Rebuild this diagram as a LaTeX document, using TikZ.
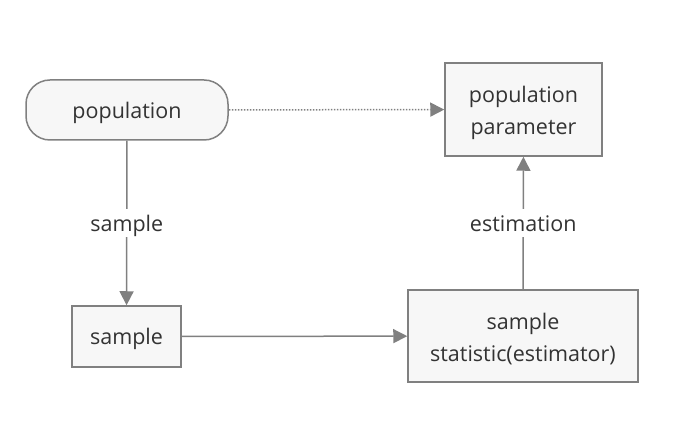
\documentclass[tikz,border=0pt]{standalone}
\usepackage{fontspec}
\setmainfont{Open Sans}
\usetikzlibrary{arrows.meta}
\definecolor{edgegray}{HTML}{808080}
\definecolor{boxfill}{HTML}{F7F7F7}
\definecolor{txt}{HTML}{333333}
\begin{document}
\begin{tikzpicture}[x=1pt,y=-1pt,
  box/.style={draw=edgegray,fill=boxfill,line width=1.5pt,text=txt,inner sep=0pt,align=center,font=\fontsize{21.5}{32}\selectfont},
  oneline/.style={text height=19pt,text depth=2.5pt},
  twoline/.style={text height=53pt,text depth=2.5pt},
  conn/.style={draw=edgegray,line width=1.5pt,-{Triangle[length=14pt,width=14pt]}},
  dotline/.style={line width=1.5pt,dash pattern=on 1.5pt off 1.5pt},
  lbl/.style={text=txt,font=\fontsize{21.5}{32}\selectfont,fill=white,inner sep=3pt,text height=20pt,text depth=2pt}]
\useasboundingbox (0,0) rectangle (696,443);
\node[box,oneline,rounded corners=24pt,minimum width=202pt,minimum height=60pt] (pop) at (127,110) {population};
\node[box,twoline,minimum width=157pt,minimum height=93pt] (par) at (523.5,109.5) {population\\parameter};
\node[box,oneline,minimum width=109pt,minimum height=61pt] (smp) at (126.5,336.5) {sample};
\node[box,twoline,minimum width=230pt,minimum height=92pt] (stat) at (523,336) {sample\\statistic(estimator)};
\draw[conn,dotline] (pop) -- (par);
\draw[conn] (pop) -- node[lbl] {sample} (smp);
\draw[conn] (smp) -- (stat);
\draw[conn] (stat) -- node[lbl] {estimation} (par);
\end{tikzpicture}
\end{document}
